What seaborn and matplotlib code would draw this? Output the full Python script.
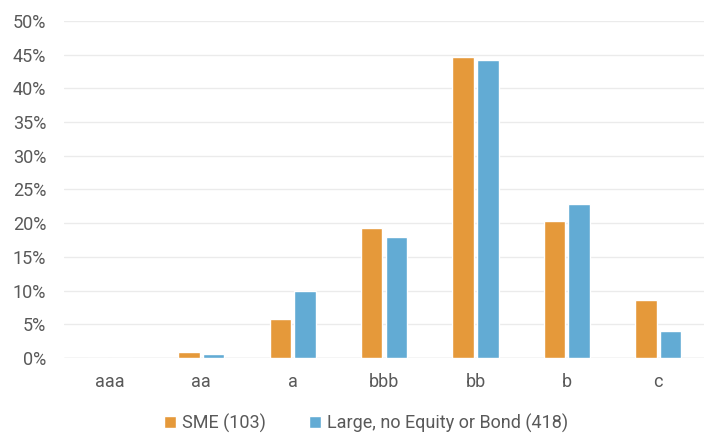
import matplotlib
matplotlib.use("Agg")
import matplotlib.pyplot as plt
from matplotlib.ticker import PercentFormatter
import seaborn as sns
import pandas as pd

grades = ["aaa", "aa", "a", "bbb", "bb", "b", "c"]
sme = [0.0, 0.9, 5.8, 19.3, 44.7, 20.3, 8.6]
large = [0.0, 0.6, 10.0, 18.0, 44.2, 22.9, 4.0]
series_names = ["SME (103)", "Large, no Equity or Bond (418)"]
colors = ["#E5993A", "#62ABD4"]

df = pd.DataFrame({
    "grade": grades * 2,
    "share": sme + large,
    "series": [series_names[0]] * len(grades) + [series_names[1]] * len(grades),
})

sns.set_theme(style="white")
plt.rcParams["font.family"] = ["Roboto", "DejaVu Sans"]

fig = plt.figure(figsize=(7.04, 4.34), dpi=100)
ax = fig.add_axes([0.091, 0.175, 0.909, 0.777])

sns.barplot(data=df, x="grade", y="share", hue="series", order=grades,
            hue_order=series_names, palette=colors, width=0.54, gap=0.13,
            saturation=1, ax=ax)

ax.set_ylim(0, 50)
ax.set_xlim(-0.5, 6.5)
ax.set_yticks(range(0, 51, 5))
ax.yaxis.set_major_formatter(PercentFormatter(decimals=0))
ax.grid(axis="y", color="#EBEBEB", linewidth=1)
ax.set_axisbelow(True)
for s in ax.spines.values():
    s.set_visible(False)
ax.axhline(0, color="#E0E0E0", linewidth=1, zorder=0.5)
ax.set_xlabel("")
ax.set_ylabel("")
ax.tick_params(axis="both", length=0, labelsize=13, colors="#595959")
ax.tick_params(axis="x", pad=11)
ax.tick_params(axis="y", pad=13)

ax.legend(loc="upper center", bbox_to_anchor=(0.472, -0.117), ncol=2,
          frameon=False, fontsize=13, handlelength=0.65, handleheight=0.65,
          handletextpad=0.35, columnspacing=2.4, labelcolor="#595959")

fig.savefig("out.png", dpi=100)
